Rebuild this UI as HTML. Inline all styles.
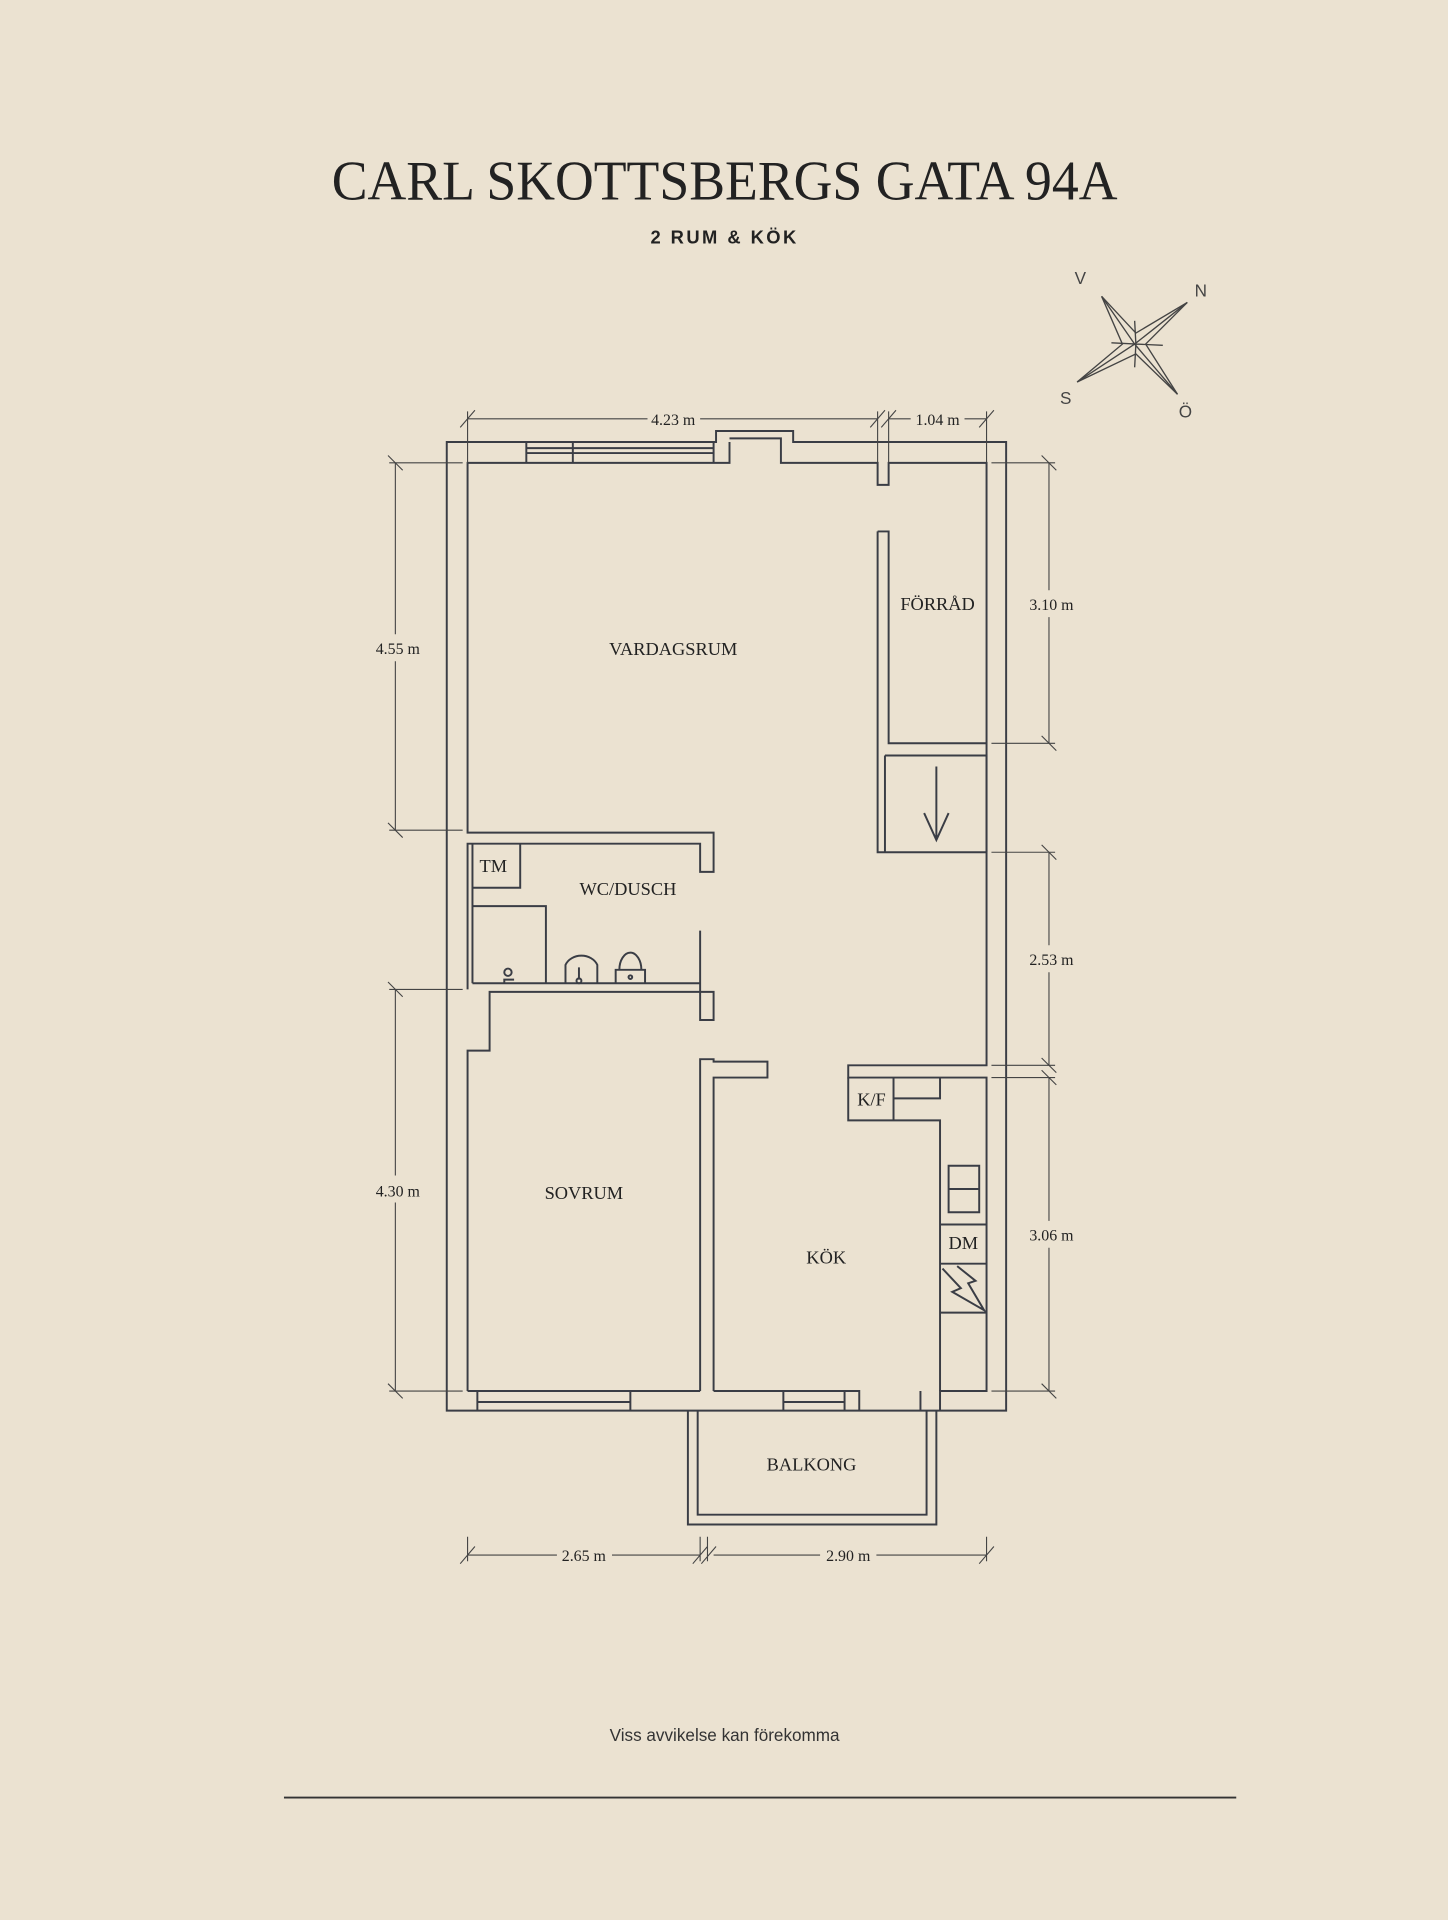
<!DOCTYPE html>
<html><head><meta charset="utf-8"><style>
html,body{margin:0;padding:0;background:#ebe2d1;}
svg{display:block}
.t{font-family:"Liberation Serif",serif;fill:#222}
</style></head><body>
<svg width="1448" height="1920" viewBox="0 0 1183 1568" preserveAspectRatio="none" xmlns="http://www.w3.org/2000/svg">
<rect width="1183" height="1568" fill="#ebe2d1"/>
<text x="592" y="163" text-anchor="middle" class="t" font-size="46" textLength="642" lengthAdjust="spacingAndGlyphs">CARL SKOTTSBERGS GATA 94A</text>
<text x="592" y="199" text-anchor="middle" font-family="Liberation Sans,sans-serif" font-weight="bold" font-size="15" letter-spacing="2" fill="#222">2 RUM &amp; KÖK</text>

<!-- compass -->
<g stroke="#444" stroke-width="1.1" fill="none">
<path d="M900,242 L928,272 L970,247 L936,281 L962,322 L928,289 L880,312 L917,281 Z"/>
<path d="M900,242 L927,281 L962,322 M970,247 L927,281 L880,312"/>
<path d="M927,262 L928,281 L927,300 M908,280 L950,282"/>
</g>
<g font-family="Liberation Sans,sans-serif" font-size="14" fill="#444">
<text x="878" y="232">V</text><text x="976" y="242">N</text><text x="866" y="330">S</text><text x="963" y="341">Ö</text>
</g>

<g stroke="#3a3d45" stroke-width="1.6" fill="none" stroke-linejoin="miter">
<!-- outer walls -->
<path d="M365,1152 L365,361 L585,361 L585,352 L648,352 L648,361 L822,361 L822,1152 Z"/>
<path d="M382,1136 L382,858 L400,858 L400,810 L583,810 L583,833 L572,833 L572,760"/>
<path d="M382,808 L382,689 L572,689 L572,712 L583,712 L583,680 L382,680 L382,378 L583,378 L583,361 M596,361 L596,378 L583,378 M638,361 L638,378 L717,378 L717,396 L726,396 L726,378 L806,378 L806,870 L693,870 L693,880 L806,880 L806,1136 L768,1136 L768,1152 M752,1136 L752,1152"/>
<path d="M596,358 L638,358 L638,361"/>
<!-- windows top -->
<path d="M430,361 L430,378 M468,361 L468,378 M430,370 L583,370 M430,366 L583,366"/>
<!-- forrad -->
<path d="M717,434 L726,434 L726,607 L806,607 M717,434 L717,696 L806,696 M723,617 L806,617 L806,696 M723,617 L723,696"/>
<path d="M765,626 L765,686 M755,664 L765,686 L775,664"/>
<!-- bath fixtures -->
<path d="M386,689 L386,803 M386,725 L425,725 L425,689 M386,740 L446,740 L446,803 M386,803 L572,803"/>
<path d="M462,803 L462,788 A14,12 0 0 1 488,788 L488,803 M473,790 L473,800"/>
<circle cx="473" cy="801" r="2"/>
<path d="M503,803 L503,792 L527,792 L527,803 M506,792 A9,14 0 1 1 524,792"/>
<circle cx="515" cy="798" r="1.5"/>
<circle cx="415" cy="794" r="3"/><path d="M412,803 L412,800 L420,800"/>
<!-- sovrum/kok wall -->
<path d="M572,1136 L572,865 L583,865 L583,867 L627,867 L627,880 L583,880 L583,1136"/>
<!-- kitchen -->
<path d="M693,880 L693,915 L768,915 L768,1136 M730,880 L730,915 M730,897 L768,897 L768,880"/>
<path d="M775,952 L800,952 L800,990 L775,990 Z M775,971 L800,971"/>
<path d="M768,1000 L806,1000 M768,1032 L806,1032 M768,1072 L806,1072 M770,1036 L785,1052 L778,1055 L804,1070 L791,1048 L797,1046 L782,1034"/>
<!-- bottom wall inner -->
<path d="M382,1136 L572,1136 M583,1136 L702,1136 L702,1152"/>
<path d="M390,1136 L390,1152 M515,1136 L515,1152 M390,1145 L515,1145 M640,1136 L640,1152 M690,1136 L690,1152 M640,1145 L690,1145"/>
<!-- balcony -->
<path d="M562,1152 L562,1245 L765,1245 L765,1152 M570,1152 L570,1237 L757,1237 L757,1152"/>
</g>

<!-- dimension lines -->
<g stroke="#444" stroke-width="0.9" fill="none">
<path d="M382,342 L529,342 M572,342 L717,342 M726,342 L744,342 M788,342 L806,342 M382,336 L382,378 M717,336 L717,378 M726,336 L726,378 M806,336 L806,378"/>
<path d="M376,349 L388,335 M711,349 L723,335 M720,349 L732,335 M800,349 L812,335"/>
<path d="M318,378 L378,378 M323,378 L323,518 M323,540 L323,678 M318,678 L378,678 M318,808 L378,808 M323,808 L323,960 M323,982 L323,1136 M318,1136 L378,1136"/>
<path d="M317,372 L329,384 M317,672 L329,684 M317,802 L329,814 M317,1130 L329,1142"/>
<path d="M810,378 L862,378 M810,607 L862,607 M810,696 L862,696 M810,870 L862,870 M810,880 L862,880 M810,1136 L862,1136 M857,378 L857,482 M857,504 L857,607 M857,696 L857,772 M857,794 L857,870 M857,880 L857,997 M857,1019 L857,1136"/>
<path d="M851,372 L863,384 M851,601 L863,613 M851,690 L863,702 M851,864 L863,876 M851,874 L863,886 M851,1130 L863,1142"/>
<path d="M382,1270 L455,1270 M500,1270 L572,1270 M583,1270 L670,1270 M716,1270 L806,1270 M382,1255 L382,1275 M572,1255 L572,1275 M578,1255 L578,1275 M806,1255 L806,1275 M376,1277 L388,1263 M566,1277 L578,1263 M573,1277 L585,1263 M800,1277 L812,1263"/>
</g>
<g class="t" font-size="13">
<text x="550" y="347" text-anchor="middle">4.23 m</text>
<text x="766" y="347" text-anchor="middle">1.04 m</text>
<text x="325" y="534" text-anchor="middle">4.55 m</text>
<text x="325" y="977" text-anchor="middle">4.30 m</text>
<text x="859" y="498" text-anchor="middle">3.10 m</text>
<text x="859" y="788" text-anchor="middle">2.53 m</text>
<text x="859" y="1013" text-anchor="middle">3.06 m</text>
<text x="477" y="1275" text-anchor="middle">2.65 m</text>
<text x="693" y="1275" text-anchor="middle">2.90 m</text>
</g>
<g class="t" font-size="15" text-anchor="middle">
<text x="550" y="535">VARDAGSRUM</text>
<text x="766" y="498">FÖRRÅD</text>
<text x="403" y="712">TM</text>
<text x="513" y="731">WC/DUSCH</text>
<text x="477" y="979">SOVRUM</text>
<text x="675" y="1032">KÖK</text>
<text x="712" y="903">K/F</text>
<text x="787" y="1020">DM</text>
<text x="663" y="1201">BALKONG</text>
</g>
<text x="592" y="1422" text-anchor="middle" font-family="Liberation Sans,sans-serif" font-size="14" fill="#333">Viss avvikelse kan förekomma</text>
<path d="M232,1468 L1010,1468" stroke="#333" stroke-width="1.6"/>
</svg>
</body></html>
